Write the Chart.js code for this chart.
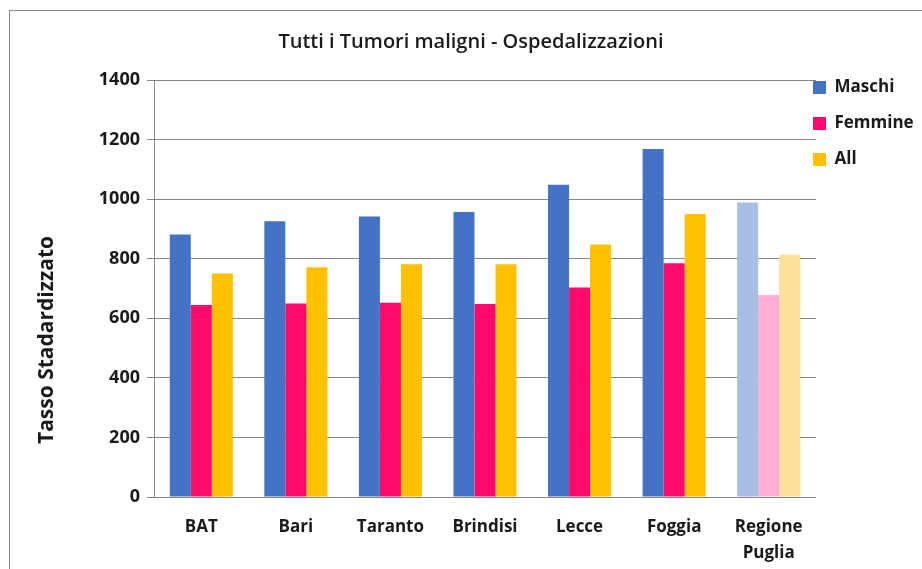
<!DOCTYPE html>
<html>
<head>
<meta charset="utf-8">
<script src="https://cdn.jsdelivr.net/npm/chart.js@4"></script>
<style>
  html, body { margin: 0; padding: 0; background: #fff; }
  #wrap { position: relative; width: 922px; height: 569px; overflow: hidden; }
  #frame { position: absolute; left: 9px; top: 10px; width: 1000px; height: 1000px; border: 1.5px solid #8a8a8a; box-sizing: border-box; }
  canvas { position: absolute; left: 0; top: 0; }
</style>
</head>
<body>
<div id="wrap">
  <div id="frame"></div>
  <canvas id="c" width="922" height="569"></canvas>
</div>
<script>
const categories = ['BAT', 'Bari', 'Taranto', 'Brindisi', 'Lecce', 'Foggia', ['Regione', 'Puglia']];
const maschi  = [881, 926, 942, 957, 1048, 1168, 989];
const femmine = [645, 650, 652, 648, 703, 785, 678];
const all     = [750, 771, 781, 781, 848, 950, 813];
const yTicks  = [0, 200, 400, 600, 800, 1000, 1200, 1400];
const chartTitle = 'Tutti i Tumori maligni - Ospedalizzazioni';
const yTitle = 'Tasso Stadardizzato';

const FONT = "'Open Sans', sans-serif";

function colorsFor(base, light) {
  return categories.map((c, i) => i === categories.length - 1 ? light : base);
}

const yTitlePlugin = {
  id: 'yTitle',
  afterDraw(chart) {
    const ctx = chart.ctx;
    ctx.save();
    ctx.translate(47, 340);
    ctx.rotate(-Math.PI / 2);
    ctx.font = "bold 21px " + FONT;
    ctx.fillStyle = '#1a1a1a';
    ctx.textAlign = 'center';
    ctx.textBaseline = 'middle';
    ctx.fillText(yTitle, 0, 0);
    ctx.restore();
  }
};

const legendShift = {
  id: 'legendShift',
  afterLayout(chart) {
    const lg = chart.legend;
    const h = lg.bottom - lg.top;
    lg.left = 794; lg.right = 922;
    lg.top = 60; lg.bottom = lg.top + h;
  }
};

new Chart(document.getElementById('c'), {
  type: 'bar',
  data: {
    labels: categories,
    datasets: [
      { label: 'Maschi',  data: maschi,  backgroundColor: colorsFor('#4472C4', '#A8BEE4') },
      { label: 'Femmine', data: femmine, backgroundColor: colorsFor('#FF0A6C', '#FFB0D2') },
      { label: 'All',     data: all,     backgroundColor: colorsFor('#FFC000', '#FFE09A') }
    ]
  },
  options: {
    responsive: false,
    animation: false,
    devicePixelRatio: 1,
    layout: { padding: { left: 20, right: 0, top: 0, bottom: 0 } },
    datasets: { bar: { categoryPercentage: 0.667, barPercentage: 1.0, borderWidth: 0 } },
    plugins: {
      title: {
        display: true,
        text: chartTitle,
        color: '#1a1a1a',
        font: { family: FONT, size: 20, weight: '600' },
        padding: { top: 30, bottom: 26 }
      },
      legend: {
        display: true,
        position: 'right',
        align: 'start',
        maxWidth: 106,
        labels: {
          boxWidth: 13,
          boxHeight: 13,
          padding: 19,
          color: '#1a1a1a',
          font: { family: FONT, size: 17, weight: 'bold' }
        }
      },
      tooltip: { enabled: false }
    },
    scales: {
      x: {
        grid: { display: false, drawTicks: false },
        border: { display: false },
        ticks: {
          color: '#1a1a1a',
          padding: 17,
          maxRotation: 0,
          font: { family: FONT, size: 17, weight: 'bold', lineHeight: 1.55 }
        },
        afterFit(s) { s.height = 72; }
      },
      y: {
        min: 0,
        max: 1400,
        afterBuildTicks(s) { s.ticks = yTicks.map(v => ({ value: v })); },
        grid: { color: '#868686', lineWidth: 1, tickLength: 7, drawTicks: true, tickColor: '#868686' },
        border: { display: true, color: '#868686', width: 1 },
        ticks: {
          color: '#1a1a1a',
          padding: 7,
          callback: (v) => String(v),
          font: { family: FONT, size: 18, weight: 'bold' }
        },
        afterFit(s) { s.width = 134; }
      }
    }
  },
  plugins: [yTitlePlugin, legendShift]
});
</script>
</body>
</html>
